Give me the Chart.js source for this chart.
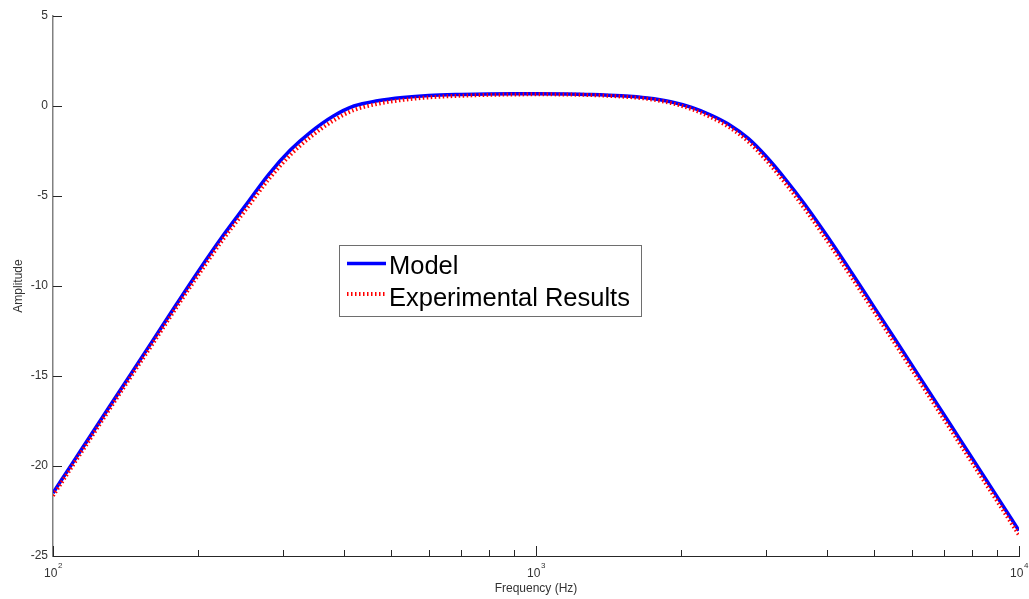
<!DOCTYPE html>
<html>
<head>
<meta charset="utf-8">
<title>Amplitude vs Frequency</title>
<script src="https://cdn.jsdelivr.net/npm/chart.js@4/dist/chart.umd.min.js"></script>
<style>
  html, body { margin: 0; padding: 0; background: #fff; }
  #wrap { width: 1029px; height: 599px; }
</style>
</head>
<body>
<div id="wrap"><canvas id="bodePlot" width="1029" height="599"></canvas></div>
<script>
// frequencies in Hz, amplitudes in dB
const frequency = [100, 110, 120, 130, 145, 160, 180, 200, 225, 250, 280, 310, 340, 380, 420, 470, 530, 600,
  700, 800, 900, 1000, 1150, 1300, 1500, 1700, 1900, 2100, 2300, 2500, 2750, 3000, 3300, 3600, 4000, 4500,
  5000, 5600, 6300, 7100, 8000, 9000, 10000];

const modelAmp = [-21.5, -19.8, -18.25, -16.82, -14.88, -13.13, -11.03, -9.18, -7.2, -5.55, -3.78, -2.45,
  -1.49, -0.57, 0.0, 0.29, 0.47, 0.58, 0.64, 0.67, 0.68, 0.68, 0.67, 0.64, 0.57, 0.45, 0.24, -0.08, -0.5,
  -1.0, -1.8, -2.82, -4.14, -5.46, -7.2, -9.25, -11.13, -13.15, -15.27, -17.42, -19.57, -21.69, -23.59];

const experimentalAmp = [-21.65, -19.95, -18.4, -16.97, -15.03, -13.3, -11.2, -9.38, -7.4, -5.8, -4.05,
  -2.72, -1.75, -0.82, -0.22, 0.12, 0.34, 0.48, 0.57, 0.62, 0.64, 0.65, 0.64, 0.61, 0.53, 0.4, 0.17, -0.17,
  -0.62, -1.14, -1.97, -3.02, -4.36, -5.7, -7.45, -9.5, -11.38, -13.4, -15.52, -17.67, -19.82, -21.93, -23.83];

const seriesNames = ['Model', 'Experimental Results'];

// axis ticks
const yTickValues = [-25, -20, -15, -10, -5, 0, 5];
const xDecades = [100, 1000, 10000];
const xDecadeExponents = ['2', '3', '4'];
const xMinorTicks = [200, 300, 400, 500, 600, 700, 800, 900, 2000, 3000, 4000, 5000, 6000, 7000, 8000, 9000];

const FONT = '"Liberation Sans", Arial, Helvetica, sans-serif';
const TEXT = '#333333';

const toPoints = (xs, ys) => xs.map((f, i) => ({ x: f, y: ys[i] }));

// inward tick marks, 10^n labels and the boxed legend
const axisDecor = {
  id: 'axisDecor',
  afterDraw(chart) {
    const { ctx, chartArea: a, scales: { x, y } } = chart;
    ctx.save();

    ctx.strokeStyle = '#262626';
    ctx.lineWidth = 1;
    ctx.beginPath();
    yTickValues.forEach(v => {
      const py = Math.round(y.getPixelForValue(v)) + 0.5;
      ctx.moveTo(a.left, py);
      ctx.lineTo(a.left + 9, py);
    });
    xDecades.forEach(v => {
      const px = Math.round(x.getPixelForValue(v)) + 0.5;
      ctx.moveTo(px, a.bottom);
      ctx.lineTo(px, a.bottom - 10);
    });
    xMinorTicks.forEach(v => {
      const px = Math.round(x.getPixelForValue(v)) + 0.5;
      ctx.moveTo(px, a.bottom);
      ctx.lineTo(px, a.bottom - 6);
    });
    ctx.stroke();

    // x labels: "10" with a raised exponent
    ctx.fillStyle = TEXT;
    ctx.textBaseline = 'alphabetic';
    ctx.textAlign = 'left';
    xDecades.forEach((v, i) => {
      const px = x.getPixelForValue(v);
      ctx.font = '12px ' + FONT;
      const w1 = ctx.measureText('10').width;
      ctx.font = '8px ' + FONT;
      const w2 = ctx.measureText(xDecadeExponents[i]).width;
      const left = px - (w1 + w2) / 2;
      ctx.font = '12px ' + FONT;
      ctx.fillText('10', left, a.bottom + 21);
      ctx.font = '8px ' + FONT;
      ctx.fillText(xDecadeExponents[i], left + w1 + 0.5, a.bottom + 12);
    });

    // legend box
    const box = { x: 339.5, y: 245.5, w: 302, h: 71 };
    ctx.fillStyle = '#ffffff';
    ctx.fillRect(box.x, box.y, box.w, box.h);
    ctx.strokeStyle = '#6e6e6e';
    ctx.lineWidth = 1;
    ctx.strokeRect(box.x, box.y, box.w, box.h);

    const sets = chart.data.datasets;
    const rows = [263.5, 294];
    const baselines = [274, 306];
    sets.forEach((ds, i) => {
      ctx.save();
      ctx.strokeStyle = ds.borderColor;
      ctx.lineWidth = ds.borderWidth;
      ctx.setLineDash(ds.borderDash || []);
      ctx.beginPath();
      ctx.moveTo(347, rows[i]);
      ctx.lineTo(386, rows[i]);
      ctx.stroke();
      ctx.restore();
      ctx.fillStyle = '#000000';
      ctx.font = '25.5px ' + FONT;
      ctx.fillText(ds.label, 389, baselines[i]);
    });

    ctx.restore();
  }
};

new Chart(document.getElementById('bodePlot'), {
  type: 'line',
  data: {
    datasets: [
      {
        label: seriesNames[0],
        data: toPoints(frequency, modelAmp),
        borderColor: '#0000ff',
        borderWidth: 3.5,
        pointRadius: 0,
        cubicInterpolationMode: 'monotone',
        order: 1
      },
      {
        label: seriesNames[1],
        data: toPoints(frequency, experimentalAmp),
        borderColor: '#ff0000',
        borderWidth: 4,
        borderDash: [1.5, 2.5],
        pointRadius: 0,
        cubicInterpolationMode: 'monotone',
        order: 0
      }
    ]
  },
  options: {
    responsive: false,
    animation: false,
    devicePixelRatio: 1,
    layout: { padding: { left: 0, right: 10, top: 16, bottom: 0 } },
    plugins: {
      legend: { display: false },
      tooltip: { enabled: false }
    },
    scales: {
      x: {
        type: 'logarithmic',
        min: 100,
        max: 10000,
        ticks: { display: false },
        grid: { display: false, drawTicks: false },
        border: { display: true, color: '#262626', width: 1 },
        title: {
          display: true,
          text: 'Frequency (Hz)',
          color: TEXT,
          font: { family: FONT, size: 12 },
          padding: { top: 0, bottom: 3 }
        },
        afterFit(s) { s.height = 43; }
      },
      y: {
        min: -25,
        max: 5,
        ticks: {
          stepSize: 5,
          color: TEXT,
          font: { family: FONT, size: 12 },
          padding: 5
        },
        grid: { display: false, drawTicks: false },
        border: { display: true, color: '#808080', width: 1.5 },
        title: {
          display: true,
          text: 'Amplitude',
          color: TEXT,
          font: { family: FONT, size: 12 },
          padding: { top: 11, bottom: 0 }
        },
        afterFit(s) { s.width = 53; }
      }
    }
  },
  plugins: [axisDecor]
});
</script>
</body>
</html>
